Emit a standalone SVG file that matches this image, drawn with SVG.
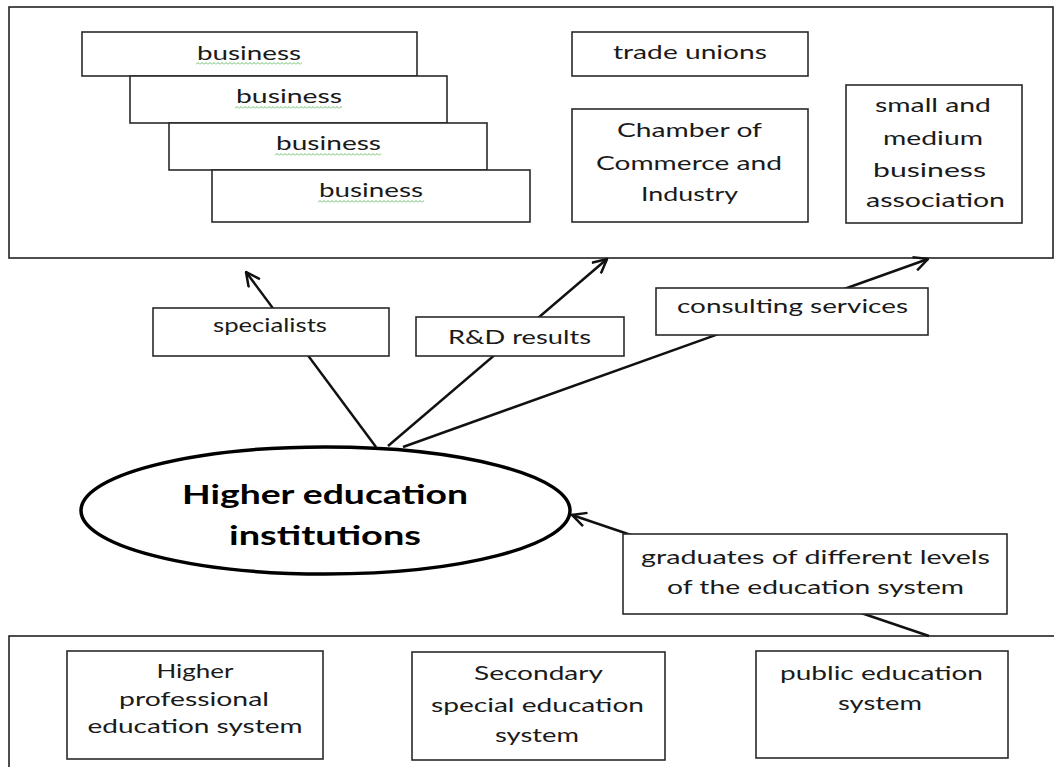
<svg xmlns="http://www.w3.org/2000/svg" width="1054" height="767" viewBox="0 0 1054 767">
<style>
.frame{fill:none;stroke:#222;stroke-width:1.6}
.box{fill:#fff;stroke:#2a2a2a;stroke-width:1.6}
.t{font-family:Lato,"Liberation Sans",sans-serif;font-size:19px;fill:#1a1a1a;text-anchor:middle}
.tb{font-family:Lato,"Liberation Sans",sans-serif;font-size:27px;font-weight:bold;fill:#000;text-anchor:middle}
.conn{fill:none;stroke:#111;stroke-width:2.5}
.sq{fill:url(#squig)}
</style>
<defs>
<marker id="arr" markerUnits="userSpaceOnUse" viewBox="0 0 16 16" refX="15" refY="8" markerWidth="16" markerHeight="16" orient="auto">
<path d="M1,1 L15,8 L1,15" fill="none" stroke="#111" stroke-width="2.5"/>
</marker>
<pattern id="squig" patternUnits="userSpaceOnUse" width="4" height="3">
<path d="M0,2.5 L2,0.5 L4,2.5" fill="none" stroke="#5cb85c" stroke-width="0.9"/>
</pattern>
</defs>

<rect class="frame" x="9" y="7" width="1044" height="251"/>
<rect class="frame" x="9" y="636" width="1050" height="140"/>

<g id="connectors">
<line class="conn" x1="376" y1="447" x2="246" y2="272" marker-end="url(#arr)"/>
<line class="conn" x1="388" y1="446" x2="607" y2="259" marker-end="url(#arr)"/>
<line class="conn" x1="403" y1="447" x2="928" y2="259" marker-end="url(#arr)"/>
<line class="conn" x1="929" y1="636" x2="572" y2="515" marker-end="url(#arr)"/>
</g>

<g id="business1">
<rect class="box" x="82" y="32" width="335" height="44"/>
<text class="t" x="249" y="60" textLength="104" lengthAdjust="spacingAndGlyphs">business</text>
<rect class="sq" x="0" y="0" width="106" height="3" transform="translate(196,62)"/>
</g>
<g id="business2">
<rect class="box" x="130" y="76" width="317" height="47"/>
<text class="t" x="289" y="103" textLength="106" lengthAdjust="spacingAndGlyphs">business</text>
<rect class="sq" x="0" y="0" width="107" height="3" transform="translate(235,106)"/>
</g>
<g id="business3">
<rect class="box" x="169" y="123" width="318" height="47"/>
<text class="t" x="328.5" y="150" textLength="105" lengthAdjust="spacingAndGlyphs">business</text>
<rect class="sq" x="0" y="0" width="106" height="3" transform="translate(275,153)"/>
</g>
<g id="business4">
<rect class="box" x="212" y="170" width="318" height="52"/>
<text class="t" x="371" y="197" textLength="104" lengthAdjust="spacingAndGlyphs">business</text>
<rect class="sq" x="0" y="0" width="106" height="3" transform="translate(318,200)"/>
</g>

<g id="trade-unions">
<rect class="box" x="572" y="32" width="236" height="44"/>
<text class="t" x="690" y="59" textLength="154" lengthAdjust="spacingAndGlyphs">trade unions</text>
</g>
<g id="chamber">
<rect class="box" x="572" y="109" width="236" height="113"/>
<text class="t" x="689.5" y="137" textLength="145" lengthAdjust="spacingAndGlyphs">Chamber of</text>
<text class="t" x="689" y="170" textLength="186" lengthAdjust="spacingAndGlyphs">Commerce and</text>
<text class="t" x="689.5" y="201" textLength="97" lengthAdjust="spacingAndGlyphs">Industry</text>
</g>
<g id="sme">
<rect class="box" x="846" y="85" width="176" height="138"/>
<text class="t" x="933" y="112" textLength="116" lengthAdjust="spacingAndGlyphs">small and</text>
<text class="t" x="933" y="145" textLength="100" lengthAdjust="spacingAndGlyphs">medium</text>
<text class="t" x="929.5" y="177" textLength="113" lengthAdjust="spacingAndGlyphs">business</text>
<text class="t" x="935.5" y="207" textLength="139" lengthAdjust="spacingAndGlyphs">association</text>
</g>

<g id="specialists">
<rect class="box" x="153" y="308" width="236" height="48"/>
<text class="t" x="270" y="332" textLength="114" lengthAdjust="spacingAndGlyphs">specialists</text>
</g>
<g id="rd-results">
<rect class="box" x="416" y="317" width="208" height="39"/>
<text class="t" x="519.5" y="344" font-size="20" textLength="143" lengthAdjust="spacingAndGlyphs">R&amp;D results</text>
</g>
<g id="consulting">
<rect class="box" x="656" y="288" width="272" height="47"/>
<text class="t" x="792.5" y="313" textLength="231" lengthAdjust="spacingAndGlyphs">consulting services</text>
</g>

<g id="hei">
<ellipse cx="325.5" cy="510.5" rx="244.5" ry="63.5" fill="#fff" stroke="#000" stroke-width="3.5"/>
<text class="tb" x="325" y="504" textLength="286" lengthAdjust="spacingAndGlyphs">Higher education</text>
<text class="tb" x="325" y="545" textLength="192" lengthAdjust="spacingAndGlyphs">institutions</text>
</g>

<g id="graduates">
<rect class="box" x="623" y="534" width="384" height="80"/>
<text class="t" x="815.5" y="564" textLength="349" lengthAdjust="spacingAndGlyphs">graduates of different levels</text>
<text class="t" x="815.5" y="594" textLength="297" lengthAdjust="spacingAndGlyphs">of the education system</text>
</g>

<g id="higher-professional">
<rect class="box" x="67" y="651" width="256" height="108"/>
<text class="t" x="195" y="678" textLength="77" lengthAdjust="spacingAndGlyphs">Higher</text>
<text class="t" x="194" y="706" textLength="150" lengthAdjust="spacingAndGlyphs">professional</text>
<text class="t" x="195" y="733" textLength="215" lengthAdjust="spacingAndGlyphs">education system</text>
</g>
<g id="secondary-special">
<rect class="box" x="412" y="652" width="253" height="108"/>
<text class="t" x="538.5" y="680" textLength="129" lengthAdjust="spacingAndGlyphs">Secondary</text>
<text class="t" x="537.5" y="712" textLength="213" lengthAdjust="spacingAndGlyphs">special education</text>
<text class="t" x="537" y="742" textLength="84" lengthAdjust="spacingAndGlyphs">system</text>
</g>
<g id="public-education">
<rect class="box" x="756" y="651" width="252" height="107"/>
<text class="t" x="881.5" y="680" textLength="203" lengthAdjust="spacingAndGlyphs">public education</text>
<text class="t" x="880" y="710" textLength="84" lengthAdjust="spacingAndGlyphs">system</text>
</g>
</svg>
